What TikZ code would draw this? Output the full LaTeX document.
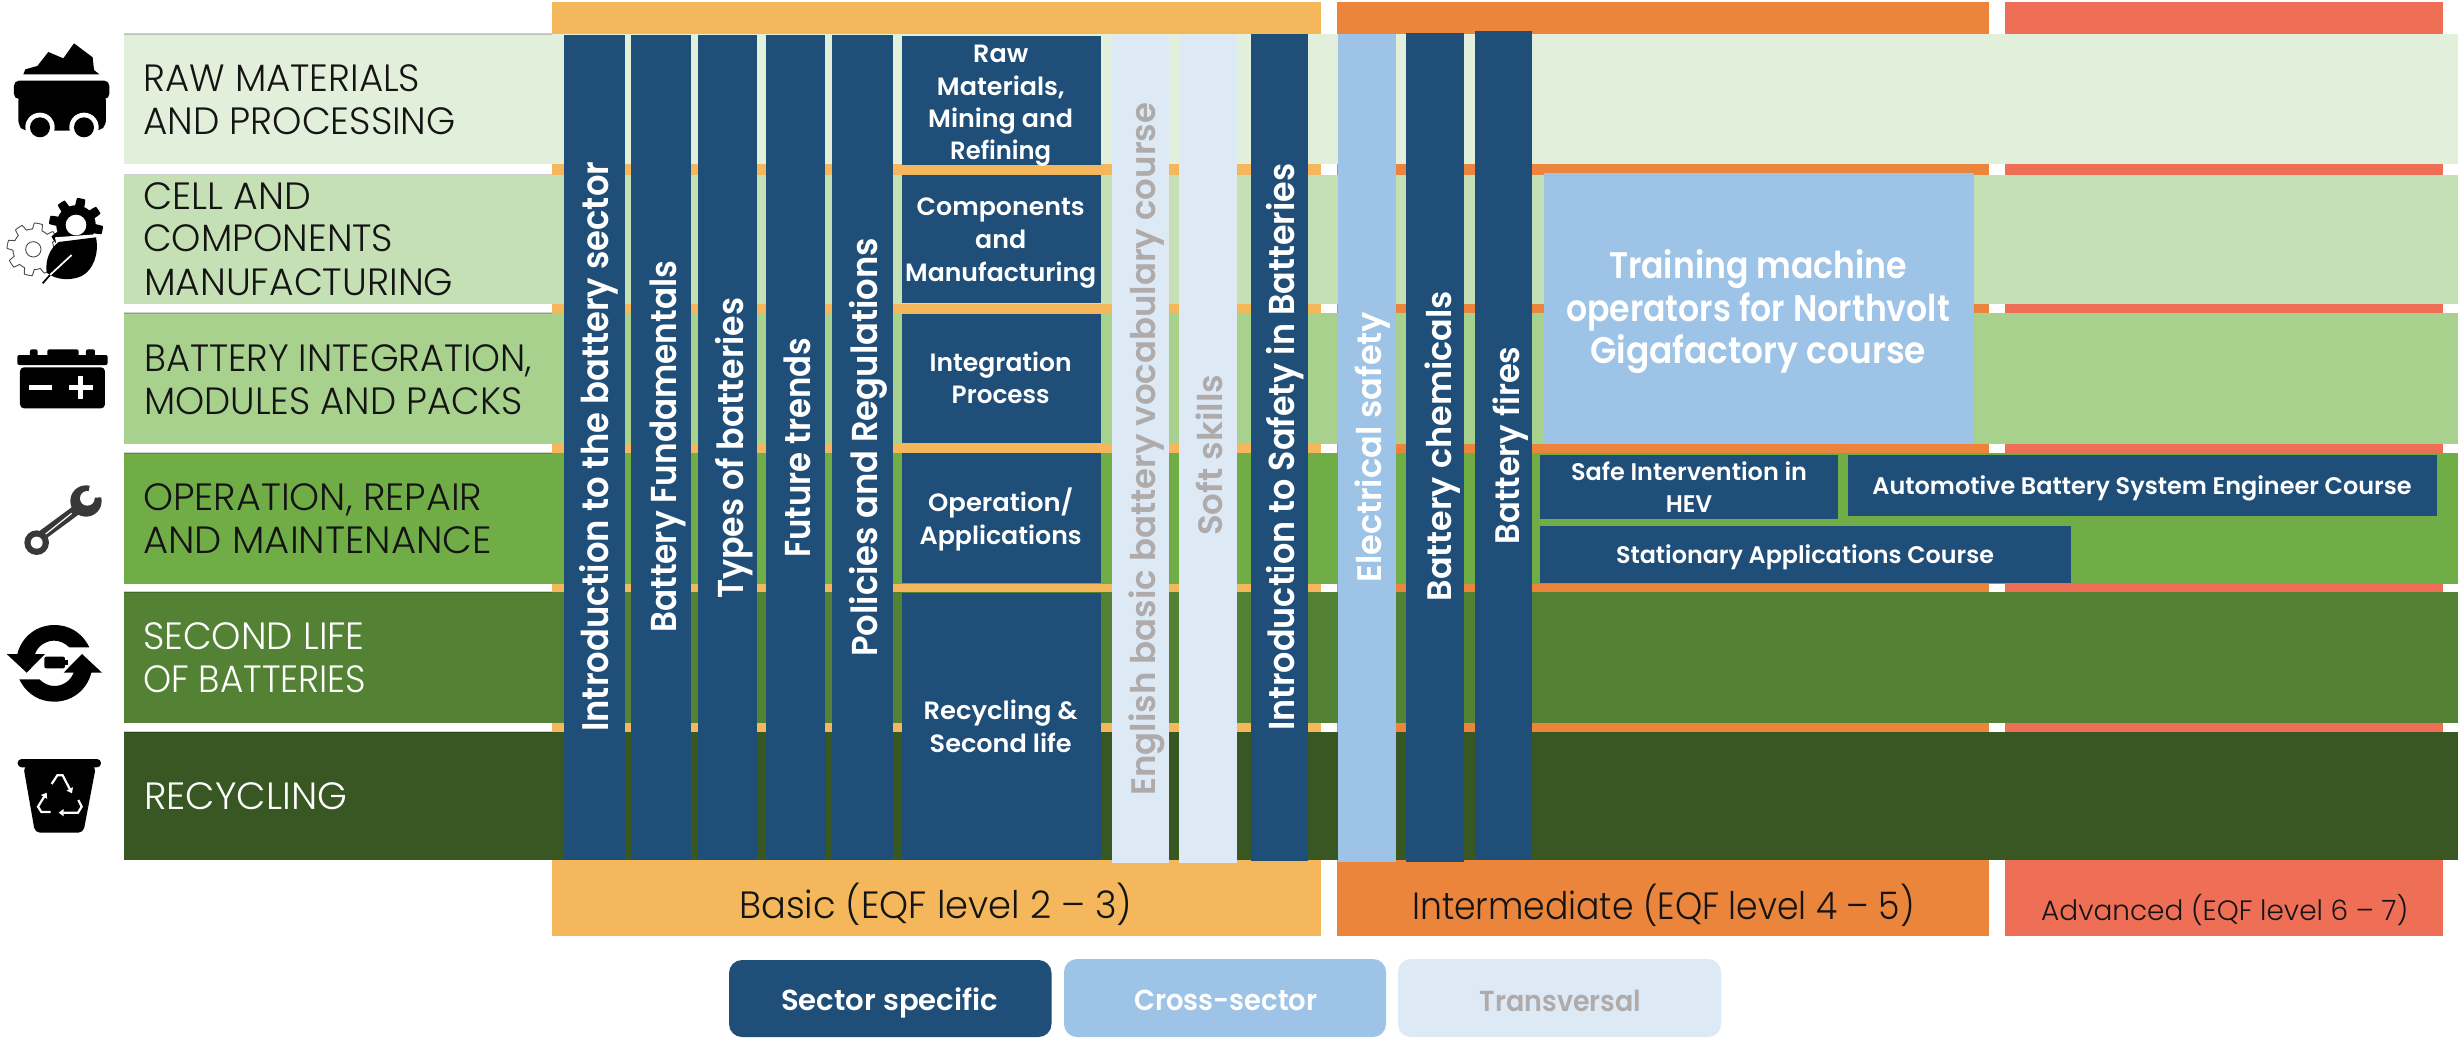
\documentclass[tikz,border=0pt]{standalone}
\usepackage{graphicx}
\usepackage{fontspec}
\setmainfont{Poppins}
\newfontfamily\lightf{Poppins Light}
\newfontfamily\medf{Poppins Medium}
\newfontfamily\semif{Poppins SemiBold}
\usetikzlibrary{arrows.meta}
\definecolor{rowa}{HTML}{E2EFDA}
\definecolor{rowb}{HTML}{C5E0B4}
\definecolor{rowc}{HTML}{A9D18E}
\definecolor{rowd}{HTML}{70AD47}
\definecolor{rowe}{HTML}{548235}
\definecolor{rowf}{HTML}{385723}
\definecolor{basicc}{HTML}{F4B75B}
\definecolor{interc}{HTML}{EB853C}
\definecolor{advc}{HTML}{EF6F56}
\definecolor{navy}{HTML}{1F4E79}
\definecolor{sky}{HTML}{9DC3E6}
\definecolor{pale}{HTML}{DDE9F5}
\definecolor{greytxt}{HTML}{AFABAB}
\definecolor{ink}{HTML}{141414}
\definecolor{wrenchc}{HTML}{383838}
\newcommand{\fs}[1]{\fontsize{#1}{#1}\selectfont}
% name, x, baseline y, target width, font, colour, text
\newcommand{\tl}[7]{\node[anchor=base west,inner sep=0pt,text=#6] (#1) at (#2,#3) {\resizebox{#4pt}{\height}{#5#7}};}
\newcommand{\tc}[7]{\node[anchor=base,inner sep=0pt,text=#6] (#1) at (#2,#3) {\resizebox{#4pt}{\height}{#5#7}};}
% name, baseline x, bottom y, length, font, colour, text
\newcommand{\tv}[7]{\node[anchor=base west,rotate=90,inner sep=0pt,text=#6] (#1) at (#2,#3) {\resizebox{#4pt}{\height}{#5#7}};}
\tikzset{
  dark/.style={fill=navy},
  mid/.style={fill=sky},
  light/.style={fill=pale},
  edge/.style={draw=black,draw opacity=.18,line width=1.2pt},
  icon/.style={x=0.33333pt,y=-0.33333pt},
  leg/.style={rounded corners=13pt}
}
\begin{document}
\begin{tikzpicture}[x=1pt,y=-1pt]
\useasboundingbox (0,0) rectangle (2458,1038);
\fill[white] (0,0) rectangle (2458,1038);
% level columns
\fill[basicc] (552,2) rectangle (1320.5,936);
\fill[interc] (1337,2) rectangle (1989,936);
\fill[advc] (2005,2) rectangle (2443,936);
% sector rows
\fill[rowa] (124,34) rectangle (2458,164.5);
\fill[rowb] (124,174.5) rectangle (2458,304);
\fill[rowc] (124,313) rectangle (2458,444);
\fill[rowd] (124,453) rectangle (2458,583.5);
\fill[rowe] (124,592) rectangle (2458,723);
\fill[rowf] (124,732) rectangle (2458,860);
\foreach \yy in {34,174.5,313,453,592,732}{\draw[edge] (124,\yy) -- (552,\yy);}
% vertical courses
\fill[dark] (563.5,35) rectangle (625,860);
\fill[dark] (631,35) rectangle (690.5,860);
\fill[dark] (698,35) rectangle (757,860);
\fill[dark] (765.5,35) rectangle (825,860);
\fill[dark] (832,35) rectangle (893,860);
\fill[light] (1111.5,35) rectangle (1169,863);
\fill[light] (1179,35) rectangle (1236.5,863);
\fill[dark] (1251,34) rectangle (1308,861);
\fill[mid] (1337.5,34) rectangle (1396,862);
\fill[dark] (1405.5,33.5) rectangle (1464,862);
\fill[dark] (1475,31) rectangle (1532,860);
% blocks
\fill[dark] (902,36.5) rectangle (1101,165.5);
\fill[dark] (902,175) rectangle (1101,303);
\fill[dark] (902,314) rectangle (1101,443);
\fill[dark] (902,452.5) rectangle (1101,582.5);
\fill[dark] (902,593) rectangle (1101,860);
% intermediate boxes
\fill[mid] (1543.5,172.5) rectangle (1973.5,442.5);
\fill[dark] (1540,455) rectangle (1837.5,519);
\fill[dark] (1848,454.5) rectangle (2437,516);
\fill[dark] (1540,525.5) rectangle (2071,583);
% legend
\fill[dark,leg] (729,960) rectangle (1051.5,1037);
\fill[mid,leg] (1064,959) rectangle (1386,1037);
\fill[light,leg] (1398,959) rectangle (1721,1037);
% row labels
\tl{la}{143}{91.5}{277}{\lightf\fs{38}}{ink}{RAW MATERIALS}
\tl{lb}{143}{135}{312.5}{\lightf\fs{38}}{ink}{AND PROCESSING}
\tl{lc}{143}{209}{168}{\lightf\fs{38}}{ink}{CELL AND}
\tl{ld}{143}{251.7}{250}{\lightf\fs{38}}{ink}{COMPONENTS}
\tl{le}{144}{295}{309}{\lightf\fs{38}}{ink}{MANUFACTURING}
\tl{lf}{144}{371.7}{388}{\lightf\fs{38}}{ink}{BATTERY INTEGRATION,}
\tl{lg}{144}{414}{378}{\lightf\fs{38}}{ink}{MODULES AND PACKS}
\tl{lh}{143}{510}{339}{\lightf\fs{38}}{ink}{OPERATION, REPAIR}
\tl{li}{143}{553}{348.5}{\lightf\fs{38}}{ink}{AND MAINTENANCE}
\tl{lj}{143}{649}{221.5}{\lightf\fs{38}}{white}{SECOND LIFE}
\tl{lk}{143}{692}{223}{\lightf\fs{38}}{white}{OF BATTERIES}
\tl{ll}{144}{809}{203}{\lightf\fs{38}}{white}{RECYCLING}
% vertical labels
\tv{va}{608}{732}{570}{\semif\fs{37}}{white}{Introduction to the battery sector}
\tv{vb}{676.7}{633}{372}{\semif\fs{36}}{white}{Battery Fundamentals}
\tv{vc}{743}{599}{301}{\semif\fs{36}}{white}{Types of batteries}
\tv{vd}{810}{558}{220}{\semif\fs{36}}{white}{Future trends}
\tv{ve}{877}{657}{419}{\semif\fs{36}}{white}{Policies and Regulations}
\tv{vf}{1155}{796}{693}{\semif\fs{34}}{greytxt}{English basic battery vocabulary course}
\tv{vg}{1222}{536}{161}{\semif\fs{34}}{greytxt}{Soft skills}
\tv{vh}{1294}{731}{567}{\semif\fs{36}}{white}{Introduction to Safety in Batteries}
\tv{vi}{1381}{583}{271}{\semif\fs{34}}{white}{Electrical safety}
\tv{vj}{1451}{601.5}{310}{\semif\fs{34}}{white}{Battery chemicals}
\tv{vk}{1519}{544.7}{198}{\semif\fs{34}}{white}{Battery fires}
% block labels
\tc{ba}{1000.7}{63}{55}{\semif\fs{25}}{white}{Raw}
\tc{bb}{1000.7}{96}{127.5}{\semif\fs{25}}{white}{Materials,}
\tc{bc}{1000.7}{128}{145}{\semif\fs{25}}{white}{Mining and}
\tc{bd}{1000.7}{160}{101}{\semif\fs{25}}{white}{Refining}
\tc{be}{1000.7}{215}{168}{\semif\fs{25}}{white}{Components}
\tc{bf}{1000.7}{248}{51}{\semif\fs{25}}{white}{and}
\tc{bg}{1000.7}{281}{191}{\semif\fs{25}}{white}{Manufacturing}
\tc{bh}{1000.7}{371}{142}{\semif\fs{25}}{white}{Integration}
\tc{bi}{1000.7}{403}{98}{\semif\fs{25}}{white}{Process}
\tc{bj}{1000.7}{511}{145}{\semif\fs{25}}{white}{Operation/}
\tc{bk}{1000.7}{544}{162}{\semif\fs{25}}{white}{Applications}
\tc{bl}{1000.7}{719}{154}{\semif\fs{25}}{white}{Recycling \&}
\tc{bm}{1000.7}{752.7}{142}{\semif\fs{25}}{white}{Second life}
% intermediate labels
\tc{ta}{1758}{278.7}{298}{\semif\fs{37}}{white}{Training machine}
\tc{tb}{1758}{321}{384}{\semif\fs{37}}{white}{operators for Northvolt}
\tc{tc}{1758}{363.6}{336}{\semif\fs{37}}{white}{Gigafactory course}
\tc{sa}{1689}{480}{236}{\semif\fs{24}}{white}{Safe Intervention in}
\tc{sb}{1689}{512}{46.5}{\semif\fs{24}}{white}{HEV}
\tc{au}{2142}{494}{539}{\semif\fs{24}}{white}{Automotive Battery System Engineer Course}
\tc{st}{1805}{563}{378}{\semif\fs{24}}{white}{Stationary Applications Course}
% level labels
\tl{ca}{739}{918}{393}{\lightf\fs{38}}{ink}{Basic (EQF level 2 – 3)}
\tl{cb}{1412}{919}{502.5}{\lightf\fs{38}}{ink}{Intermediate (EQF level 4 – 5)}
\tl{cc}{2041}{920}{367}{\lightf\fs{28}}{ink}{Advanced (EQF level 6 – 7)}
% legend labels
\tl{ga}{781}{1010}{217}{\semif\fs{29}}{white}{Sector specific}
\tl{gb}{1134}{1010}{183}{\semif\fs{29}}{white}{Cross-sector}
\tl{gc}{1479.5}{1011.5}{161.5}{\semif\fs{29}}{greytxt}{Transversal}
% icon: mine cart
\begin{scope}[shift={(0,30)},icon]
\fill[black] (70,133) -- (76,118) -- (112,108) -- (145,66) -- (190,85) -- (222,40) -- (278,82) -- (282,120) -- (298,133) -- cycle;
\fill[black,rounded corners=5pt] (42,152) rectangle (328,207);
\fill[black,rounded corners=5pt] (55,195) -- (318,195) -- (318,285) -- (300,302) -- (70,302) -- (55,285) -- cycle;
\fill[white] (120,292) circle (44);
\fill[white] (252,292) circle (44);
\fill[black] (120,292) circle (30);
\fill[black] (252,292) circle (30);
% icon: gears and leaf
\draw[black!70,line width=0.9pt,smooth,samples=145,domain=0:360] plot ({100+(70+9*max(-1,min(1,3*sin(8*\x))))*cos(\x)},{658+(70+9*max(-1,min(1,3*sin(8*\x))))*sin(\x)}) -- cycle;
\draw[black!70,line width=0.9pt] (100,658) circle (23);
\fill[black,smooth,samples=145,domain=0:360] plot ({228+(70+11*max(-1,min(1,3*sin(8*\x))))*cos(\x)},{585+(70+11*max(-1,min(1,3*sin(8*\x))))*sin(\x)}) -- cycle;
\fill[white] (228,585) circle (31);
\fill[white] (165,622) -- (300,612) -- (300,632) -- (170,648) -- cycle;
\fill[black] (176,636) -- (288,622) .. controls (298,670) and (280,720) .. (245,738) .. controls (215,752) and (170,752) .. (140,728) .. controls (135,690) and (150,655) .. (176,636) -- cycle;
\draw[white,line width=1.7pt] (215,675) -- (150,735);
\draw[black,line width=1.7pt] (150,735) -- (128,760);
\end{scope}
% icon: battery
\begin{scope}[shift={(0,300)},icon]
\fill[black,rounded corners=2pt] (90,148) rectangle (113,172);
\fill[black,rounded corners=2pt] (142,148) rectangle (236,172);
\fill[black,rounded corners=2pt] (258,148) rectangle (285,172);
\fill[black,rounded corners=2pt] (52,165) rectangle (323,195);
\fill[black,rounded corners=4pt] (60,202) rectangle (315,325);
\fill[white] (88,255) rectangle (155,270);
\fill[white] (208,255) rectangle (278,270);
\fill[white] (234,228) rectangle (250,298);
% icon: wrench
\draw[wrenchc,line width=10pt] (118,712) -- (232,628);
\draw[white,line width=1.2pt] (125,712) -- (215,640);
\fill[wrenchc] (110,728) circle (37);
\fill[white] (110,728) circle (18);
\fill[wrenchc] (258,603) circle (47);
\fill[white] (262,595) circle (22);
\fill[white] (262,595) -- (272,545) -- (325,590) -- cycle;
\end{scope}
% icon: second life arrows and bin
\begin{scope}[shift={(0,590)},icon]
\fill[black] (268,172) .. controls (245,125) and (205,105) .. (163,105) .. controls (110,105) and (65,140) .. (52,192) -- (20,192) -- (80,248) -- (135,192) -- (105,192) .. controls (115,165) and (140,152) .. (163,152) .. controls (180,152) and (195,160) .. (208,172) -- cycle;
\fill[black] (58,268) .. controls (81,315) and (121,335) .. (163,335) .. controls (216,335) and (261,300) .. (274,248) -- (306,248) -- (246,192) -- (191,248) -- (221,248) .. controls (211,275) and (186,288) .. (163,288) .. controls (146,288) and (131,280) .. (118,268) -- cycle;
\fill[black,rounded corners=2pt] (133,200) rectangle (195,235);
\fill[black] (195,210) rectangle (205,225);
\fill[black,rounded corners=4pt] (53,507) rectangle (303,532);
\fill[black,rounded corners=5pt] (70,528) -- (288,528) -- (250,728) -- (105,728) -- cycle;
\draw[white,line width=2.2pt,-{Triangle[length=5pt,width=7pt]}] (155,582) -- (172,556) -- (188,556) -- (216,610);
\draw[white,line width=2.2pt,-{Triangle[length=5pt,width=7pt]}] (235,630) -- (245,650) -- (234,668) -- (176,668);
\draw[white,line width=2.2pt,-{Triangle[length=5pt,width=7pt]}] (152,666) -- (124,666) -- (114,650) -- (140,608);
\end{scope}
\end{tikzpicture}
\end{document}
